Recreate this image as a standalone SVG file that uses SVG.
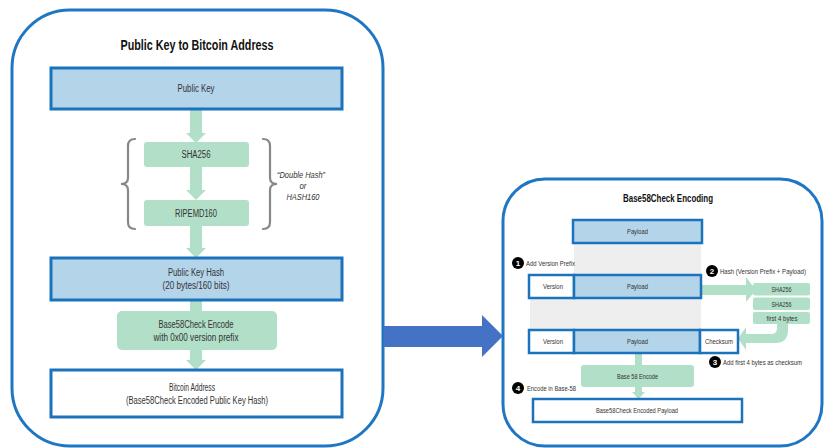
<svg xmlns="http://www.w3.org/2000/svg" width="825" height="448" viewBox="0 0 825 448">
<defs>
<style>
.cont{fill:#fff;stroke:#1f77c3;stroke-width:3}
.blue{fill:#b4d4ea;stroke:#1b73bb;stroke-width:3}
.white{fill:#fff;stroke:#1b73bb;stroke-width:3}
.blue2{fill:#b4d4ea;stroke:#1b73bb;stroke-width:2.5}
.white2{fill:#fff;stroke:#1b73bb;stroke-width:2.5}
.green{fill:#b2dfc7}
.gflow{fill:#b2dfc7}
.t{font-family:"Liberation Sans Narrow","Liberation Sans",Arial,sans-serif;fill:#333;text-anchor:middle}
.title{font-weight:bold;fill:#111}
.it{font-style:italic}
.brace{fill:none;stroke:#888;stroke-width:2.2;stroke-linecap:round}
.num{fill:#000}
.numt{font-family:"Liberation Sans",Arial,sans-serif;fill:#fff;font-size:8px;font-weight:bold;text-anchor:middle}
.lbl{font-family:"Liberation Sans Narrow","Liberation Sans",Arial,sans-serif;fill:#333;font-size:7px}
.gray{fill:#eeeeee}
</style>
</defs>
<rect width="825" height="448" fill="#fff"/>

<!-- Left container -->
<g id="left-container">
<rect class="cont" x="12" y="10" width="371" height="436" rx="58" ry="58"/>
<text class="t title" x="197" y="50" font-size="14" textLength="153" lengthAdjust="spacingAndGlyphs">Public Key to Bitcoin Address</text>
</g>

<!-- Right container -->
<g id="right-container">
<rect class="cont" x="503" y="179" width="319" height="267" rx="42" ry="42" stroke-width="2.5"/>
<text class="t title" x="668" y="202" font-size="11" textLength="90" lengthAdjust="spacingAndGlyphs">Base58Check Encoding</text>
</g>

<!-- connectors -->
<g id="connectors">
<!-- left green arrows -->
<rect class="gflow" x="190" y="109" width="12" height="25"/>
<polygon class="gflow" points="186,133 206,133 196,143"/>
<rect class="gflow" x="190" y="167" width="12" height="24"/>
<polygon class="gflow" points="186,190 206,190 196,200"/>
<rect class="gflow" x="190" y="226" width="12" height="23"/>
<polygon class="gflow" points="186,248 206,248 196,258"/>
<rect class="gflow" x="190" y="300" width="12" height="12"/>
<rect class="gflow" x="190" y="350" width="12" height="11"/>
<polygon class="gflow" points="186,360 206,360 196,370"/>
<!-- big blue arrow -->
<polygon fill="#4472c4" points="384,326 482,326 482,315 503,336 482,357 482,347 384,347"/>
<!-- right side gray shading -->
<rect class="gray" x="574" y="243" width="127" height="32"/>
<rect class="gray" x="530" y="298" width="171" height="32"/>
<!-- right green arrows -->
<rect class="gflow" x="702" y="285" width="46" height="10"/>
<polygon class="gflow" points="746,277 756,290 746,302"/>
<path class="gflow" d="M777,323 L788,323 L788,330 Q788,343 775,343 L746,343 L746,350 L738,338.5 L746,327 L746,334 L771,334 Q777,334 777,328 Z"/>
<rect class="gflow" x="635" y="353" width="7" height="12"/>
<rect class="gflow" x="635" y="387" width="7" height="6"/>
<polygon class="gflow" points="632,392 645,392 638.5,399"/>
</g>

<!-- left nodes -->
<g id="public-key">
<rect class="blue" x="51" y="68" width="291" height="41"/>
<text class="t" x="196" y="92" font-size="10" textLength="37" lengthAdjust="spacingAndGlyphs">Public Key</text>
</g>
<g id="sha256">
<rect class="green" x="144" y="142" width="105" height="25" rx="3"/>
<text class="t" x="196" y="158" font-size="10" textLength="29" lengthAdjust="spacingAndGlyphs">SHA256</text>
</g>
<g id="ripemd160">
<rect class="green" x="144" y="200" width="105" height="26" rx="3"/>
<text class="t" x="196" y="216.5" font-size="10" textLength="42" lengthAdjust="spacingAndGlyphs">RIPEMD160</text>
</g>
<g id="double-hash-brace">
<path class="brace" d="M135,139 Q128,139 128,146 L128,178 Q128,184 121,184 Q128,184 128,190 L128,222 Q128,229 135,229"/>
<path class="brace" d="M263,139 Q270,139 270,146 L270,178 Q270,184 277,184 Q270,184 270,190 L270,222 Q270,229 263,229"/>
<text class="t it" x="301" y="178" font-size="9" textLength="48" lengthAdjust="spacingAndGlyphs">“Double Hash”</text>
<text class="t it" x="303" y="189" font-size="9" textLength="7" lengthAdjust="spacingAndGlyphs">or</text>
<text class="t it" x="303" y="200" font-size="9" textLength="33" lengthAdjust="spacingAndGlyphs">HASH160</text>
</g>
<g id="public-key-hash">
<rect class="blue" x="51" y="258" width="291" height="42"/>
<text class="t" x="196" y="276" font-size="10" textLength="56" lengthAdjust="spacingAndGlyphs">Public Key Hash</text>
<text class="t" x="196" y="288.5" font-size="10" textLength="67" lengthAdjust="spacingAndGlyphs">(20 bytes/160 bits)</text>
</g>
<g id="base58check-encode">
<rect class="green" x="117" y="311" width="160" height="39" rx="5"/>
<text class="t" x="196" y="328" font-size="10" textLength="75" lengthAdjust="spacingAndGlyphs">Base58Check  Encode</text>
<text class="t" x="196" y="340.5" font-size="10" textLength="85" lengthAdjust="spacingAndGlyphs">with 0x00 version prefix</text>
</g>
<g id="bitcoin-address">
<rect class="white" x="51" y="370" width="291" height="47"/>
<text class="t" x="192" y="391" font-size="10" textLength="46" lengthAdjust="spacingAndGlyphs">Bitcoin Address</text>
<text class="t" x="197" y="403.5" font-size="10" textLength="142" lengthAdjust="spacingAndGlyphs">(Base58Check Encoded Public Key Hash)</text>
</g>

<!-- right nodes -->
<g id="payload-top">
<rect class="blue2" x="573" y="220" width="129" height="23"/>
<text class="t" x="637.5" y="234" font-size="7.5" textLength="21" lengthAdjust="spacingAndGlyphs">Payload</text>
</g>
<g id="step1">
<circle class="num" cx="518" cy="263" r="6"/>
<text class="numt" x="518" y="266">1</text>
<text class="lbl" x="526" y="265.5" textLength="49" lengthAdjust="spacingAndGlyphs">Add Version Prefix</text>
</g>
<g id="row2">
<rect class="white2" x="529" y="275" width="45" height="23"/>
<text class="t" x="553" y="289" font-size="7.5" textLength="20" lengthAdjust="spacingAndGlyphs">Version</text>
<rect class="blue2" x="574" y="275" width="127" height="23"/>
<text class="t" x="637.5" y="289" font-size="7.5" textLength="21" lengthAdjust="spacingAndGlyphs">Payload</text>
</g>
<g id="step2">
<circle class="num" cx="712" cy="271" r="6"/>
<text class="numt" x="712" y="274">2</text>
<text class="lbl" x="720" y="273.5" textLength="86" lengthAdjust="spacingAndGlyphs">Hash (Version Prefix + Payload)</text>
</g>
<g id="hash-stack">
<rect class="green" x="753" y="283" width="57" height="12.5" rx="2"/>
<text class="t" x="781.5" y="292" font-size="7" textLength="20" lengthAdjust="spacingAndGlyphs">SHA256</text>
<rect class="green" x="753" y="297.5" width="57" height="12.5" rx="2"/>
<text class="t" x="781.5" y="306.5" font-size="7" textLength="20" lengthAdjust="spacingAndGlyphs">SHA256</text>
<rect class="green" x="753" y="312" width="57" height="12" rx="2"/>
<text class="t" x="782" y="320.5" font-size="7" textLength="31" lengthAdjust="spacingAndGlyphs">first 4 bytes</text>
</g>
<g id="row3">
<rect class="white2" x="529" y="330" width="45" height="23"/>
<text class="t" x="553" y="344" font-size="7.5" textLength="20" lengthAdjust="spacingAndGlyphs">Version</text>
<rect class="blue2" x="574" y="330" width="126" height="23"/>
<text class="t" x="637.5" y="344" font-size="7.5" textLength="21" lengthAdjust="spacingAndGlyphs">Payload</text>
<rect class="white2" x="700" y="330" width="38" height="23"/>
<text class="t" x="719" y="344" font-size="7.5" textLength="28" lengthAdjust="spacingAndGlyphs">Checksum</text>
</g>
<g id="step3">
<circle class="num" cx="715" cy="362" r="6"/>
<text class="numt" x="715" y="365">3</text>
<text class="lbl" x="723" y="364.5" textLength="79" lengthAdjust="spacingAndGlyphs">Add first 4 bytes as checksum</text>
</g>
<g id="base58-encode">
<rect class="green" x="581" y="365" width="113" height="22" rx="3"/>
<text class="t" x="637.5" y="378.5" font-size="7.5" textLength="41" lengthAdjust="spacingAndGlyphs">Base 58 Encode</text>
</g>
<g id="step4">
<circle class="num" cx="518" cy="388" r="6"/>
<text class="numt" x="518" y="391">4</text>
<text class="lbl" x="527" y="390.5" textLength="49" lengthAdjust="spacingAndGlyphs">Encode in Base-58</text>
</g>
<g id="encoded-payload">
<rect class="white2" x="533" y="399" width="209" height="23"/>
<text class="t" x="637" y="413" font-size="7.5" textLength="82" lengthAdjust="spacingAndGlyphs">Base58Check Encoded Payload</text>
</g>
</svg>
